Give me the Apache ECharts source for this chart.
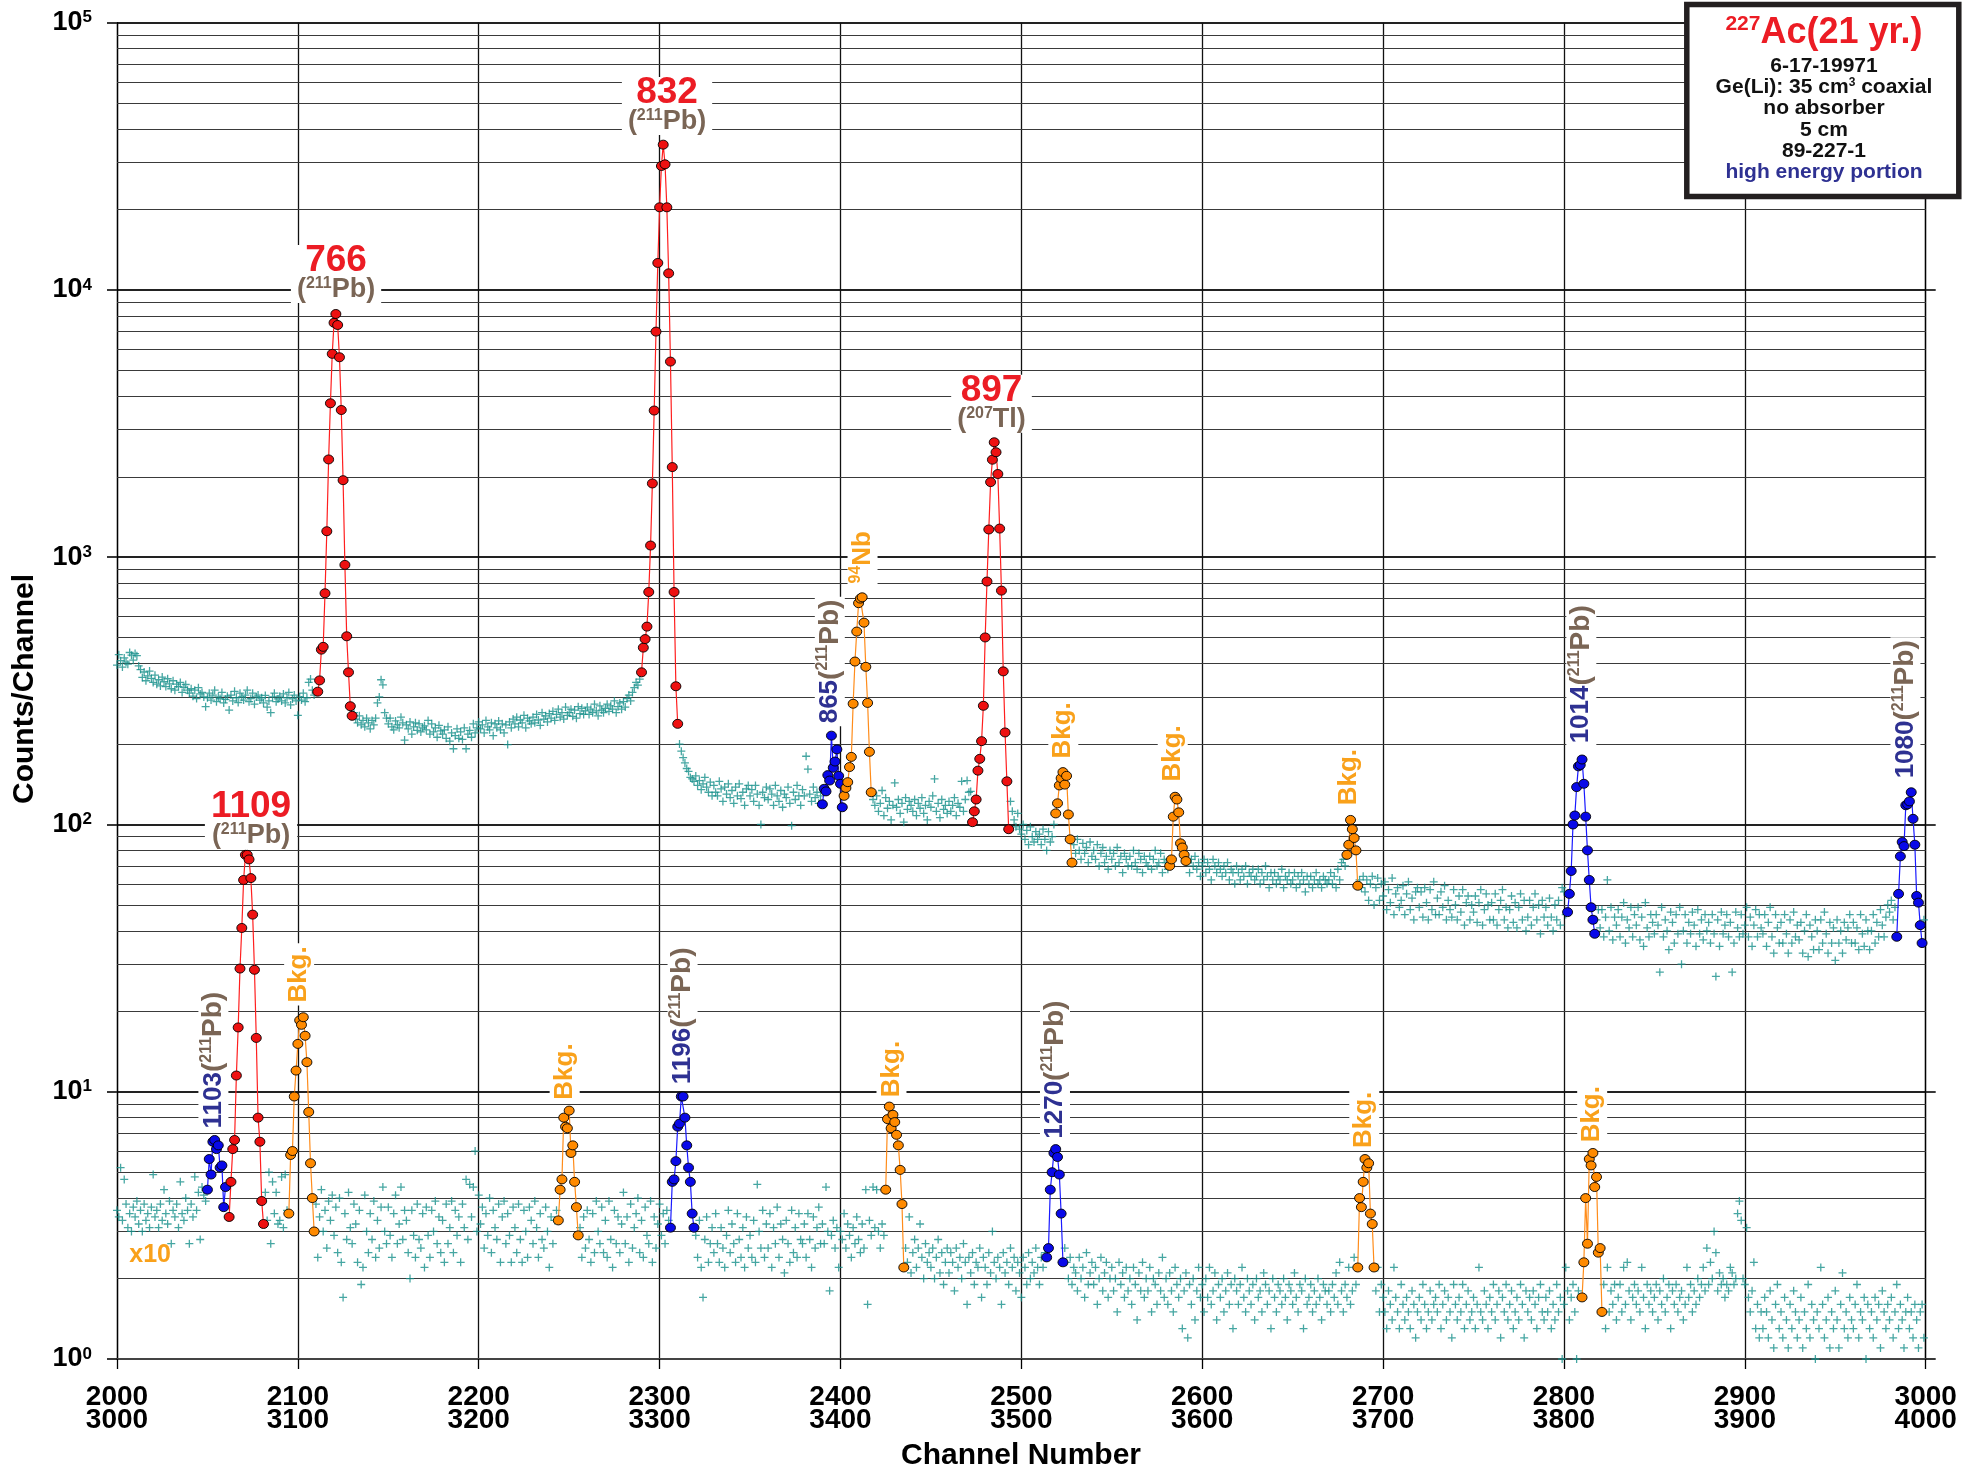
<!DOCTYPE html>
<html><head><meta charset="utf-8">
<script src="https://cdn.jsdelivr.net/npm/echarts/dist/echarts.min.js"></script>
<style>html,body{margin:0;padding:0;background:#fff}#c{width:1965px;height:1471px}</style>
</head><body><div id="c"></div>
<script>
const _ = null;
// x tick labels (two rows: upper spectrum channels / lower spectrum channels)
const xTopLabels = [2000,2100,2200,2300,2400,2500,2600,2700,2800,2900,3000];
const xBottomLabels = [3000,3100,3200,3300,3400,3500,3600,3700,3800,3900,4000];
// background counts, upper spectrum, one value per channel from 2000 (null = peak region)
const upperStart = 2000;
const upperBackground = [
395,432,410,388,420,405,398,440,430,412,
436,428,392,380,355,372,345,360,375,352,
340,362,335,348,330,356,342,328,351,336,
322,345,318,335,328,340,312,326,334,318,
310,322,302,318,296,325,308,312,300,276,
298,310,292,305,318,288,300,296,312,285,
294,302,268,305,290,315,298,286,310,300,
292,305,318,288,296,310,282,300,305,292,
298,285,304,275,290,262,300,310,288,295,
302,290,308,285,298,312,280,295,305,290,
256,300,292,310,288,298,340,350,318,305,
312,_,_,_,_,_,_,_,_,_,
_,_,_,_,_,_,_,_,_,_,
_,262,248,240,255,236,245,232,250,240,
228,245,236,250,285,300,348,333,262,250,
238,250,232,226,244,236,230,252,240,207,
236,228,242,218,232,240,225,238,222,230,
234,226,245,218,238,222,230,212,235,224,
218,226,210,232,205,220,192,215,228,210,
222,208,230,192,218,225,212,238,220,230,
242,228,236,220,245,232,226,240,215,238,
230,244,226,238,220,236,199,242,230,248,
238,252,232,246,240,256,230,250,244,238,
252,240,258,246,235,262,248,255,242,260,
250,265,245,258,270,252,262,248,275,256,
262,270,254,268,250,276,260,272,258,266,
275,258,270,262,282,266,255,278,268,262,
272,282,265,278,270,290,262,276,285,270,
288,275,296,305,290,312,325,340,332,350,
_,_,_,_,_,_,_,_,_,_,
_,_,_,_,_,_,_,_,_,_,
_,200,188,178,170,162,158,150,148,145,
152,140,146,135,142,150,138,132,144,128,
140,132,128,145,136,122,138,130,142,126,
134,120,138,128,142,125,132,118,136,140,
128,135,122,140,130,118,100,132,126,138,
124,136,130,118,140,128,122,134,116,130,
126,138,120,99,132,124,140,128,118,135,
128,180,161,130,122,138,126,132,120,128,
_,_,_,_,_,_,_,_,_,_,
_,_,_,_,_,_,_,_,_,_,
_,_,_,_,_,_,_,_,124,118,
128,112,120,134,108,126,115,122,104,118,
143,116,124,110,120,102,126,114,122,118,
112,124,108,120,115,126,110,118,104,122,
116,128,148,112,120,106,124,114,118,110,
122,112,118,126,108,120,116,145,112,124,
146,132,133,_,_,_,_,_,_,_,
_,_,_,_,_,_,_,_,_,_,
_,_,_,_,122,112,104,98,110,96,
92,100,88,95,84,98,90,86,94,88,
92,84,96,88,80,94,86,90,100,_,
_,_,_,_,_,_,_,_,_,84,
78,88,80,74,85,78,82,72,86,76,
80,74,84,70,78,82,72,76,68,80,
74,78,70,82,72,76,66,78,74,70,
76,70,80,72,68,78,74,66,76,72,
70,76,68,74,80,70,72,78,66,74,
72,68,_,_,_,_,_,_,_,_,
_,_,72,66,74,70,76,68,72,64,
70,74,66,72,68,62,74,70,66,72,
68,64,70,66,72,62,68,66,60,70,
66,62,68,64,70,60,66,64,68,62,
64,68,60,66,62,70,64,58,66,62,
66,60,64,62,68,58,64,62,66,60,
62,66,58,64,60,66,62,56,64,60,
64,58,62,66,60,62,58,64,62,60,
62,66,60,64,58,68,62,72,74,70,
_,_,_,_,_,_,_,62,58,64,
56,62,52,60,64,50,58,63,52,60,
54,61,48,57,51,63,46,55,58,49,
52,59,46,55,61,48,53,44,56,58,
49,56,45,58,51,44,57,48,61,46,
53,46,56,49,59,44,52,48,45,57,
50,44,54,47,57,42,51,54,44,50,
47,54,43,51,57,42,48,55,50,44,
51,44,55,42,48,52,57,44,49,41,
48,54,43,51,41,49,55,44,52,40,
45,52,42,49,55,44,50,39,52,45,
49,42,53,45,40,50,44,52,42,58,
56,46,_,_,_,_,_,_,_,_,
_,_,_,_,_,_,_,_,44,48,
41,48,38,45,62,40,49,37,45,42,
48,38,45,51,36,44,41,49,38,46,
42,49,37,45,35,51,41,38,46,43,
39,46,42,28,49,38,44,40,34,47,
43,36,46,39,49,30,40,46,36,43,
39,47,42,35,48,39,44,37,46,40,
43,36,46,39,27,44,35,47,39,42,
46,38,43,28,36,47,41,38,46,39,
42,49,38,45,35,42,48,38,46,41,
39,46,35,43,49,38,33,46,41,36,
43,36,46,39,33,44,36,47,38,42,
37,43,33,40,46,32,42,38,34,44,
40,34,44,36,47,39,33,43,36,41,
31,44,36,40,33,43,37,41,46,36,
43,36,41,34,46,39,35,44,40,34,
40,46,36,43,38,48,42,38,45,50,
47,52,44,49,_,_,_,_,_,_,
_,_,_,_,_,_,_,_,_,44
];
// background, lower spectrum (channels 3000-4000, drawn on the 2000-3000 scale), x10 display values
const lowerStart = 2000;
const lowerBackground = [
3.6,3.4,5.2,3.3,4.7,3.8,3.1,3.5,3.0,3.7,
3.4,3.9,3.2,3.6,3.0,3.8,3.3,3.5,3.1,3.7,
4.9,3.4,3.6,3.1,3.8,3.3,4.3,3.5,3.2,3.9,
2.7,3.6,3.4,3.8,3.1,4.6,3.5,3.3,4.0,3.6,
2.7,3.8,3.4,4.8,3.6,4.2,2.8,4.4,4.1,3.9,
_,_,_,_,_,_,_,_,_,_,
_,_,_,_,_,_,_,_,_,_,
_,_,_,_,_,_,_,_,_,_,
_,_,4.2,3.3,5.0,2.7,4.6,3.5,4.2,3.2,
3.3,4.8,3.1,4.9,3.6,_,_,_,_,_,
_,_,_,_,_,_,_,_,_,_,
3.8,2.4,3.4,4.3,3.0,3.6,2.6,3.9,3.3,4.1,
2.9,3.7,2.5,4.0,2.3,1.7,3.5,2.8,4.2,3.1,
2.7,3.8,3.2,2.3,3.6,1.9,2.2,4.1,3.0,2.5,
3.5,2.8,3.9,2.4,3.3,2.6,3.7,4.4,3.0,2.7,
3.7,2.9,2.4,3.5,4.1,2.7,3.2,4.4,2.8,3.6,
3.3,2.5,2.0,3.6,2.9,2.4,3.8,2.8,2.6,3.5,
2.2,3.7,2.9,2.4,3.6,3.0,3.9,2.7,3.4,2.5,
3.3,2.3,3.8,2.7,3.1,3.9,2.5,3.6,2.9,3.4,
2.3,3.8,3.1,4.7,2.8,4.5,3.4,4.4,6.0,3.0,
4.1,3.2,3.7,2.6,3.5,2.9,4.0,2.5,3.6,3.1,
2.8,3.8,2.3,3.4,3.9,2.7,3.5,2.9,2.3,3.7,
3.1,2.5,3.8,2.8,2.3,3.6,3.0,2.4,3.7,3.3,
2.7,3.9,3.1,2.4,3.5,2.8,2.6,3.7,3.0,2.2,
3.4,2.7,3.3,3.6,_,_,_,_,_,_,
_,_,_,_,_,_,3.1,2.4,3.4,2.6,
3.6,2.8,2.3,3.5,2.5,3.9,3.0,2.7,3.7,2.5,
3.3,2.4,3.9,2.8,2.2,3.6,2.7,3.4,2.5,3.2,
4.2,2.7,3.4,2.3,3.8,2.6,3.1,3.5,4.0,2.5,
3.3,2.4,3.7,2.9,2.7,3.9,2.3,3.4,2.6,3.2,
3.8,2.9,3.5,2.7,3.6,3.3,_,_,_,_,
_,_,_,_,_,_,_,_,_,_,
2.9,2.4,3.3,2.2,1.7,2.8,3.4,2.3,2.7,3.1,
2.5,3.5,2.7,2.3,3.1,2.6,2.2,2.9,3.6,2.5,
3.2,2.7,2.3,3.5,2.8,2.4,3.1,2.2,3.4,2.6,
2.9,2.4,3.3,2.3,4.5,3.0,2.6,3.6,2.4,3.2,
2.6,3.5,2.2,3.1,2.7,3.7,2.4,3.2,2.8,2.1,
3.3,2.7,2.3,3.6,2.5,3.1,2.4,3.5,2.8,2.7,
3.2,2.4,3.5,2.8,2.2,3.4,2.6,3.1,3.7,2.7,
3.2,2.7,4.4,3.0,1.8,2.9,3.3,2.6,3.1,2.2,
3.0,2.8,3.5,2.6,3.2,2.9,2.4,3.1,2.7,3.4,
2.8,2.5,3.2,2.6,4.3,1.6,3.3,2.9,4.4,3.1,
4.3,3.0,2.6,3.2,2.9,_,_,_,_,_,
_,_,_,_,_,_,2.6,2.3,3.4,2.1,
2.5,2.8,2.2,2.6,3.2,2.4,2.0,2.7,2.3,2.5,
2.2,2.6,2.0,2.4,2.8,2.1,2.5,1.9,2.3,2.6,
2.1,2.5,2.3,1.8,2.6,2.2,2.4,2.0,2.7,2.3,
1.6,2.4,2.1,2.5,1.9,2.3,2.2,2.6,1.7,2.4,
2.2,1.9,2.5,2.1,3.0,2.3,2.0,2.4,2.2,1.6,
2.5,2.1,2.3,1.9,2.6,2.2,2.4,1.8,2.3,2.1,
1.7,2.4,2.2,1.9,2.5,2.0,2.3,2.1,2.6,2.2,
1.9,2.4,2.2,2.5,_,_,_,_,_,_,
_,_,_,_,2.6,2.3,2.0,2.4,1.9,2.2,
2.1,1.8,2.4,2.0,2.2,1.7,2.5,1.9,2.1,2.3,
1.9,2.2,1.6,2.0,2.4,1.8,2.1,2.3,1.7,2.0,
2.2,1.8,2.0,1.5,2.3,1.9,2.1,1.7,2.2,1.8,
2.0,1.6,2.2,1.9,1.4,2.1,1.8,2.3,1.7,2.0,
1.8,2.2,1.5,2.0,1.9,1.6,2.1,1.8,2.4,1.7,
2.0,1.6,2.1,1.8,1.5,2.2,1.9,1.7,2.0,1.3,
1.8,2.1,1.2,1.9,1.6,2.0,1.4,1.8,2.2,1.7,
1.9,1.5,2.0,1.7,2.2,1.6,1.8,2.1,1.4,1.9,
1.7,2.0,1.5,1.8,2.1,1.6,1.9,1.3,2.0,1.8,
1.6,1.9,2.2,1.7,1.5,2.0,1.8,1.6,1.9,1.4,
2.0,1.7,1.8,1.5,2.1,1.9,1.6,1.8,1.3,2.0,
1.7,1.5,1.9,1.8,1.6,2.0,1.7,1.4,1.9,1.8,
1.6,2.1,1.7,1.5,1.9,1.8,1.3,2.0,1.6,1.7,
1.9,1.5,1.8,1.6,2.0,1.7,1.4,1.9,1.8,1.6,
1.8,1.5,1.9,1.7,2.1,1.6,2.3,1.8,1.5,1.9,
1.7,2.2,1.6,1.8,2.4,1.9,_,_,_,_,
_,_,_,_,_,_,1.8,2.2,1.5,1.9,
1.7,1.5,1.3,1.8,1.6,1.4,2.2,1.7,1.5,1.3,
1.9,1.6,1.4,1.7,1.5,1.3,1.8,1.6,1.2,1.5,
1.7,1.4,1.9,1.6,1.3,1.5,1.8,1.4,1.6,1.7,
1.5,1.9,1.3,1.6,1.8,1.4,1.7,1.5,1.2,1.9,
1.6,1.4,1.7,1.5,1.9,1.3,1.6,1.8,1.4,1.5,
1.7,1.3,1.6,2.2,1.5,1.4,1.8,1.6,1.3,1.7,
1.5,1.9,1.4,1.6,1.8,1.2,1.7,1.5,1.9,1.4,
1.6,1.8,1.3,1.5,1.7,1.4,1.9,1.6,1.2,1.8,
1.5,1.7,1.4,1.8,1.6,1.3,1.7,1.9,1.5,1.4,
1.7,1.5,1.8,1.3,1.6,1.4,1.9,1.5,1.7,1.0,
1.6,2.2,1.8,1.4,1.7,1.9,1.5,1.0,1.8,1.7,
_,_,_,_,_,_,_,_,_,_,
_,_,1.9,1.3,2.2,1.5,1.8,1.6,1.9,1.4,
1.7,1.9,1.5,2.2,1.6,2.3,1.8,1.4,1.7,1.9,
1.6,1.8,1.5,2.2,1.7,1.3,1.9,1.6,1.8,1.5,
1.7,1.9,1.4,1.8,1.6,2.0,1.5,1.7,1.9,1.3,
1.8,1.6,1.9,1.5,1.7,1.8,1.4,1.6,2.2,1.7,
1.9,1.5,1.8,1.6,2.0,1.7,1.9,2.2,1.8,2.6,
1.9,2.3,2.0,3.0,2.5,1.8,2.1,1.9,2.0,1.7,
1.9,1.8,2.2,2.1,1.9,2.0,3.5,3.9,3.3,2.0,
1.9,3.1,1.7,1.5,1.8,2.3,1.3,1.6,1.2,1.5,
1.3,1.7,1.5,1.2,1.8,1.4,1.1,1.6,1.9,1.3,
1.5,1.2,1.7,1.4,1.1,1.6,1.3,1.8,1.5,1.2,
1.4,1.7,1.1,1.5,1.3,1.9,1.2,1.6,1.4,1.0,
1.5,1.3,2.2,1.6,1.2,1.4,1.7,1.1,1.5,1.3,
1.8,1.4,1.1,1.6,2.1,1.3,1.5,1.2,1.7,1.4,
1.3,1.6,1.9,1.2,1.5,1.4,1.7,1.0,1.6,1.3,
1.5,1.2,1.7,1.4,1.6,1.1,1.8,1.5,1.3,1.6,
1.4,1.7,1.2,1.5,1.9,1.3,1.6,1.4,1.1,1.5,
1.7,1.3,1.5,1.2,1.6,1.4,1.1,1.5,1.6,1.2
];
// peaks: counts per channel, consecutive channels from the given start
const peak766 = [314,346,451,462,733,1251,2322,3767,5766,7536,8130,7395,5600,3555,1942,936,506,371,277,255];
const peak832 = [371,459,494,550,741,1106,1888,3539,6985,12620,20380,29100,34970,29520,20380,11540,5395,2174,741,329,238];
const peak865 = [119,136,133,153,146,215,163,172,191,152,142,116];
const peakNb94 = [128,137,144,164,179,283,407,527,673,700,708,569,389,285,187,132];
const peak897 = [102,112,124,159,176,205,278,501,811,1270,1910,2317,2692,2471,2048,1280,750,374,221,145,96];
const bkgU1 = [110,120,140,149,157,141,152,109,88,72];
const bkgU2 = [70,74,107,127,124,111,85,82,77,73];
const bkgU3 = [77,84,104,96,89,80,59];
const peak1014 = [47,55,67,100,108,138,165,167,175,142,107,80,62,49,44,39];
const peak1080 = [38,55,76,86,83,118,119,122,132,105,84,54,51,42,36];
const peak1103 = [4.3,5.6,4.9,6.5,6.6,6.1,6.3,5.2,5.3,3.7,4.4];
const peak1109 = [3.4,4.6,6.1,6.6,11.5,17.4,28.9,41,62,77,77,74,63,46,28.6,15.9,8.0,6.5,3.9,3.2];
const bkgL1 = [3.5,5.8,6.0,9.6,12.0,15.1,18.5,17.8,19.0,16.2,12.9,8.4,5.4,4.0,3.0];
const bkgL2 = [3.3,4.3,4.7,8.0,7.4,7.3,8.5,5.9,6.3,4.6,3.7,2.9];
const peak1196 = [3.1,4.6,4.7,5.5,7.4,7.6,9.6,9.6,8.0,6.3,5.2,4.6,3.5,3.1];
const bkgL3 = [4.3,7.9,8.8,7.3,8.2,7.7,6.9,6.3,5.1,3.8,2.2];
const peak1270 = [2.4,2.6,4.3,5.0,5.9,6.1,5.7,4.9,3.5,2.3];
const bkgL4 = [2.2,4.0,3.7,4.6,5.6,5.2,5.4,3.5,3.2,2.2];
const bkgL5 = [1.7,2.3,4.0,2.7,5.6,5.3,5.9,4.4,4.8,2.5,2.6,1.5];

const peakList = [
  ['red',2111,peak766],['red',2290,peak832],['blue',2390,peak865],['orange',2402,peakNb94],
  ['red',2473,peak897],['orange',2519,bkgU1],['orange',2582,bkgU2],['orange',2680,bkgU3],
  ['blue',2802,peak1014],['blue',2984,peak1080],
  ['blue',2050,peak1103],['red',2062,peak1109],['orange',2095,bkgL1],['orange',2244,bkgL2],
  ['blue',2306,peak1196],['orange',2425,bkgL3],['blue',2514,peak1270],['orange',2686,bkgL4],['orange',2810,bkgL5]
];

// annotation anchors (channel, counts)
const bigLabels = [
  {e:'766', a:'211', el:'Pb', ch:2121.1, v:11480},
  {e:'832', a:'211', el:'Pb', ch:2304.1, v:48750},
  {e:'897', a:'207', el:'Tl', ch:2483.5, v:3750},
  {e:'1109', a:'211', el:'Pb', ch:2074.1, v:104}
];
const sideLabels = [
  {k:'iso', e:'865', ch:2394.1, v:233},
  {k:'nb', ch:2412.2, v:777},
  {k:'bkg', ch:2523.2, v:172},
  {k:'bkg', ch:2583.7, v:141},
  {k:'bkg', ch:2681.1, v:115},
  {k:'iso', e:'1014', ch:2809.6, v:196},
  {k:'iso', e:'1080', ch:2988.8, v:145},
  {k:'iso', e:'1103', ch:2053.3, v:7.1},
  {k:'bkg', ch:2100.7, v:21},
  {k:'bkg', ch:2247.5, v:9.1},
  {k:'iso', e:'1196', ch:2312.7, v:10.4},
  {k:'bkg', ch:2428.2, v:9.3},
  {k:'iso', e:'1270', ch:2518.6, v:6.5},
  {k:'bkg', ch:2689.6, v:6.0},
  {k:'bkg', ch:2815.6, v:6.3}
];
const x10Label = {ch:2018.3, v:2.44};
const minorMultipliers = [2,3,4,5,6,7,8,9];
const decades = [1,10,100,1000,10000];
const legendLines = ['6-17-19971','Ge(Li): 35 cm{s|3} coaxial','no absorber','5 cm','89-227-1'];

const FONT = "'Liberation Sans', Arial, Helvetica, sans-serif";
const RED = '#ec1c24', BROWN = '#7a6555', NAVY = '#2e3192', ORANGE = '#f9a11b', TEAL = '#16908b';
const colors = {
  red: {line:'#ff1f1f', fill:'#ee1111'},
  blue: {line:'#1a1aff', fill:'#0909e8'},
  orange: {line:'#ff8c1a', fill:'#ff8a00'}
};
const pairs = (start, vals) => vals.map((v,i) => v == null ? null : [start + i, v]).filter(Boolean);
const plusPath = 'path://M4.2,0H5.8V4.2H10V5.8H5.8V10H4.2V5.8H0V4.2H4.2Z';

const minorValues = [];
decades.forEach(d => minorMultipliers.forEach(m => minorValues.push(d * m)));

const series = [
  {type:'line', data:[[2000,1]], showSymbol:false, lineStyle:{width:0}, silent:true, z:1,
   markLine:{silent:true, z:1, symbol:['none','none'], label:{show:false}, animation:false,
     lineStyle:{type:'solid', color:'#3a3a3a', width:1.1},
     data: minorValues.map(v => ({yAxis:v}))}},
  {type:'scatter', data:pairs(upperStart, upperBackground), symbol:plusPath, symbolSize:8,
   itemStyle:{color:TEAL}, z:2, silent:true},
  {type:'scatter', data:pairs(lowerStart, lowerBackground), symbol:plusPath, symbolSize:8,
   itemStyle:{color:TEAL}, z:2, silent:true}
];
peakList.forEach(([kind, start, vals]) => {
  series.push({type:'line', data:pairs(start, vals), symbol:'circle', symbolSize:[10,9],
    showSymbol:true, showAllSymbol:true, z:3, silent:true,
    lineStyle:{color:colors[kind].line, width:1.2},
    itemStyle:{color:colors[kind].fill, borderColor:'#000', borderWidth:0.9}});
});

const option = {
  animation:false,
  backgroundColor:'#fff',
  grid:{left:117, right:39.3, top:22.7, bottom:112, outerBoundsMode:'none'},
  xAxis:{type:'value', min:2000, max:3000, interval:100,
    axisLine:{show:true, onZero:false, lineStyle:{color:'#444', width:2}},
    axisTick:{show:true, length:10, inside:false, lineStyle:{color:'#000', width:1.3}},
    splitLine:{show:true, lineStyle:{color:'#111', width:1.3}},
    axisLabel:{margin:27, fontFamily:FONT, fontSize:28, fontWeight:'bold', color:'#000', lineHeight:23,
      formatter: v => { const i = Math.round((v - 2000) / 100); return xTopLabels[i] + '\n' + xBottomLabels[i]; }}},
  yAxis:[
    {type:'log', logBase:10, min:1, max:100000, position:'left',
     axisLine:{show:true, lineStyle:{color:'#000', width:1.3}},
     axisTick:{show:true, length:10, inside:false, lineStyle:{color:'#222', width:1.8}},
     splitLine:{show:true, lineStyle:{color:'#222', width:1.8}},
     minorTick:{show:false}, minorSplitLine:{show:false},
     axisLabel:{margin:25, formatter: v => '{b|10}{s|' + Math.round(Math.log10(v)) + '}',
       rich:{b:{fontFamily:FONT, fontSize:27, fontWeight:'bold', color:'#000', lineHeight:27},
             s:{fontFamily:FONT, fontSize:17, fontWeight:'bold', color:'#000', lineHeight:17, verticalAlign:'top'}}}},
    {type:'log', logBase:10, min:1, max:100000, position:'right',
     axisLine:{show:true, lineStyle:{color:'#000', width:1.3}},
     axisTick:{show:true, length:10, inside:false, lineStyle:{color:'#222', width:1.8}},
     splitLine:{show:false}, axisLabel:{show:false}}
  ],
  series: series
};

const chart = echarts.init(document.getElementById('c'), null, {renderer:'canvas'});
chart.setOption(option);
const px = (ch, v) => chart.convertToPixel({seriesIndex:1}, [ch, v]);

const graphics = [];
bigLabels.forEach(l => {
  const p = px(l.ch, l.v);
  graphics.push({type:'text', x:p[0], y:p[1], z:100, silent:true,
    style:{text:'{n|' + l.e + '}\n{p|(}{s|' + l.a + '}{p|' + l.el + ')}',
      align:'center', verticalAlign:'middle', backgroundColor:'#fff', padding:[0,6,0,6],
      rich:{n:{fontFamily:FONT, fontSize:37, fontWeight:'bold', fill:RED, lineHeight:31},
            p:{fontFamily:FONT, fontSize:27, fontWeight:'bold', fill:BROWN, lineHeight:27},
            s:{fontFamily:FONT, fontSize:16, fontWeight:'bold', fill:BROWN, lineHeight:17, verticalAlign:'top'}}}});
});
sideLabels.forEach(l => {
  const p = px(l.ch, l.v);
  let text;
  if (l.k === 'iso') text = '{n|' + l.e + '}{p|(}{s|211}{p|Pb)}';
  else if (l.k === 'nb') text = '{os|94}{o|Nb}';
  else text = '{o|Bkg.}';
  graphics.push({type:'text', x:p[0], y:p[1], rotation:Math.PI/2, z:100, silent:true,
    style:{text:text, align:'left', verticalAlign:'middle', backgroundColor:'#fff', padding:[0,3,0,3],
      rich:{n:{fontFamily:FONT, fontSize:26, fontWeight:'bold', fill:NAVY, lineHeight:30},
            p:{fontFamily:FONT, fontSize:28, fontWeight:'bold', fill:BROWN, lineHeight:30},
            s:{fontFamily:FONT, fontSize:16, fontWeight:'bold', fill:BROWN, lineHeight:17, verticalAlign:'top'},
            o:{fontFamily:FONT, fontSize:26, fontWeight:'bold', fill:ORANGE, lineHeight:30},
            os:{fontFamily:FONT, fontSize:16, fontWeight:'bold', fill:ORANGE, lineHeight:17, verticalAlign:'top'}}}});
});
{
  const p = px(x10Label.ch, x10Label.v);
  graphics.push({type:'text', x:p[0], y:p[1], z:100, silent:true,
    style:{text:'x10', align:'center', verticalAlign:'middle', fontFamily:FONT, fontSize:25, fontWeight:'bold', fill:ORANGE}});
}
// axis titles
graphics.push({type:'text', x:25, y:689, rotation:Math.PI/2, z:100, silent:true,
  style:{text:'Counts/Channel', align:'center', verticalAlign:'middle', fontFamily:FONT, fontSize:30, fontWeight:'bold', fill:'#000'}});
graphics.push({type:'text', x:1021, y:1456, z:100, silent:true,
  style:{text:'Channel Number', align:'center', verticalAlign:'middle', fontFamily:FONT, fontSize:30, fontWeight:'bold', fill:'#000'}});
// info box
graphics.push({type:'rect', z:110, silent:true, shape:{x:1686.8, y:4.5, width:272, height:192},
  style:{fill:'#fff', stroke:'#231f20', lineWidth:5.5}});
graphics.push({type:'text', x:1824, y:33, z:111, silent:true,
  style:{text:'{s|227}{t|Ac(21 yr.)}', align:'center', verticalAlign:'middle',
    rich:{s:{fontFamily:FONT, fontSize:21, fontWeight:'bold', fill:RED, lineHeight:20, verticalAlign:'top'},
          t:{fontFamily:FONT, fontSize:36, fontWeight:'bold', fill:RED, lineHeight:38}}}});
const legendYs = [66, 87.5, 108.5, 130, 151];
legendLines.forEach((t, i) => {
  graphics.push({type:'text', x:1824, y:legendYs[i], z:111, silent:true,
    style:{text:'{m|' + t.replace('{s|3}', '}{s|3}{m|') + '}', align:'center', verticalAlign:'middle',
      rich:{m:{fontFamily:FONT, fontSize:21, fontWeight:'bold', fill:'#111', lineHeight:22},
            s:{fontFamily:FONT, fontSize:12, fontWeight:'bold', fill:'#111', lineHeight:12, verticalAlign:'top'}}}});
});
graphics.push({type:'text', x:1824, y:172.5, z:111, silent:true,
  style:{text:'high energy portion', align:'center', verticalAlign:'middle', fontFamily:FONT, fontSize:21, fontWeight:'bold', fill:NAVY}});

chart.setOption({graphic: graphics});
</script>
</body></html>
